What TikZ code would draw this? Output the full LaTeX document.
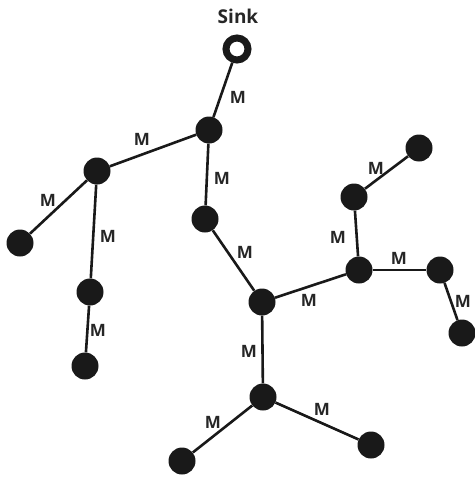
\documentclass[tikz,border=0pt]{standalone}
\usepackage{fontspec}
\setmainfont{Open Sans}
\begin{document}
\begin{tikzpicture}[x=1pt,y=-1pt,
  dot/.style={circle,fill=black!90,inner sep=0pt,minimum size=27pt},
  sinknode/.style={circle,draw=black!90,line width=7pt,fill=white,inner sep=0pt,minimum size=22pt},
  link/.style={draw=black!90,line width=2.6pt},
  lab/.style={font=\fontsize{17}{17}\selectfont\bfseries,text=black!85,inner sep=1pt}]
\useasboundingbox (0,0) rectangle (474,479);
\node[lab,font=\fontsize{19}{19}\selectfont\bfseries] (sinklabel) at (238,16) {Sink};
\node[sinknode] (S) at (237,49) {};
\node[dot] (A) at (209,130) {};
\node[dot] (B) at (97,171) {};
\node[dot] (C) at (20,243) {};
\node[dot] (D) at (90,292) {};
\node[dot] (E) at (85,366) {};
\node[dot] (F) at (205,219) {};
\node[dot] (G) at (262,302) {};
\node[dot] (H) at (359,270) {};
\node[dot] (I) at (354,197) {};
\node[dot] (J) at (419,148) {};
\node[dot] (K) at (440,270) {};
\node[dot] (L) at (462,333) {};
\node[dot] (Mn) at (263,397) {};
\node[dot] (N) at (182,461) {};
\node[dot] (O) at (371,445) {};
\path[link] (S) -- (A);
\path[link] (A) -- (B);
\path[link] (A) -- (F);
\path[link] (B) -- (C);
\path[link] (B) -- (D);
\path[link] (D) -- (E);
\path[link] (F) -- (G);
\path[link] (G) -- (H);
\path[link] (G) -- (Mn);
\path[link] (H) -- (I);
\path[link] (I) -- (J);
\path[link] (H) -- (K);
\path[link] (K) -- (L);
\path[link] (Mn) -- (N);
\path[link] (Mn) -- (O);
\node[lab] (l1) at (238,97) {M};
\node[lab] (l2) at (142,139) {M};
\node[lab] (l3) at (48,200) {M};
\node[lab] (l4) at (108,236) {M};
\node[lab] (l5) at (98,330) {M};
\node[lab] (l6) at (222,178) {M};
\node[lab] (l7) at (245,252) {M};
\node[lab] (l8) at (309,300) {M};
\node[lab] (l9) at (249,351) {M};
\node[lab] (l10) at (338,237) {M};
\node[lab] (l11) at (376,168) {M};
\node[lab] (l12) at (399,258) {M};
\node[lab] (l13) at (463,301) {M};
\node[lab] (l14) at (213,422) {M};
\node[lab] (l15) at (322,409) {M};
\end{tikzpicture}
\end{document}
